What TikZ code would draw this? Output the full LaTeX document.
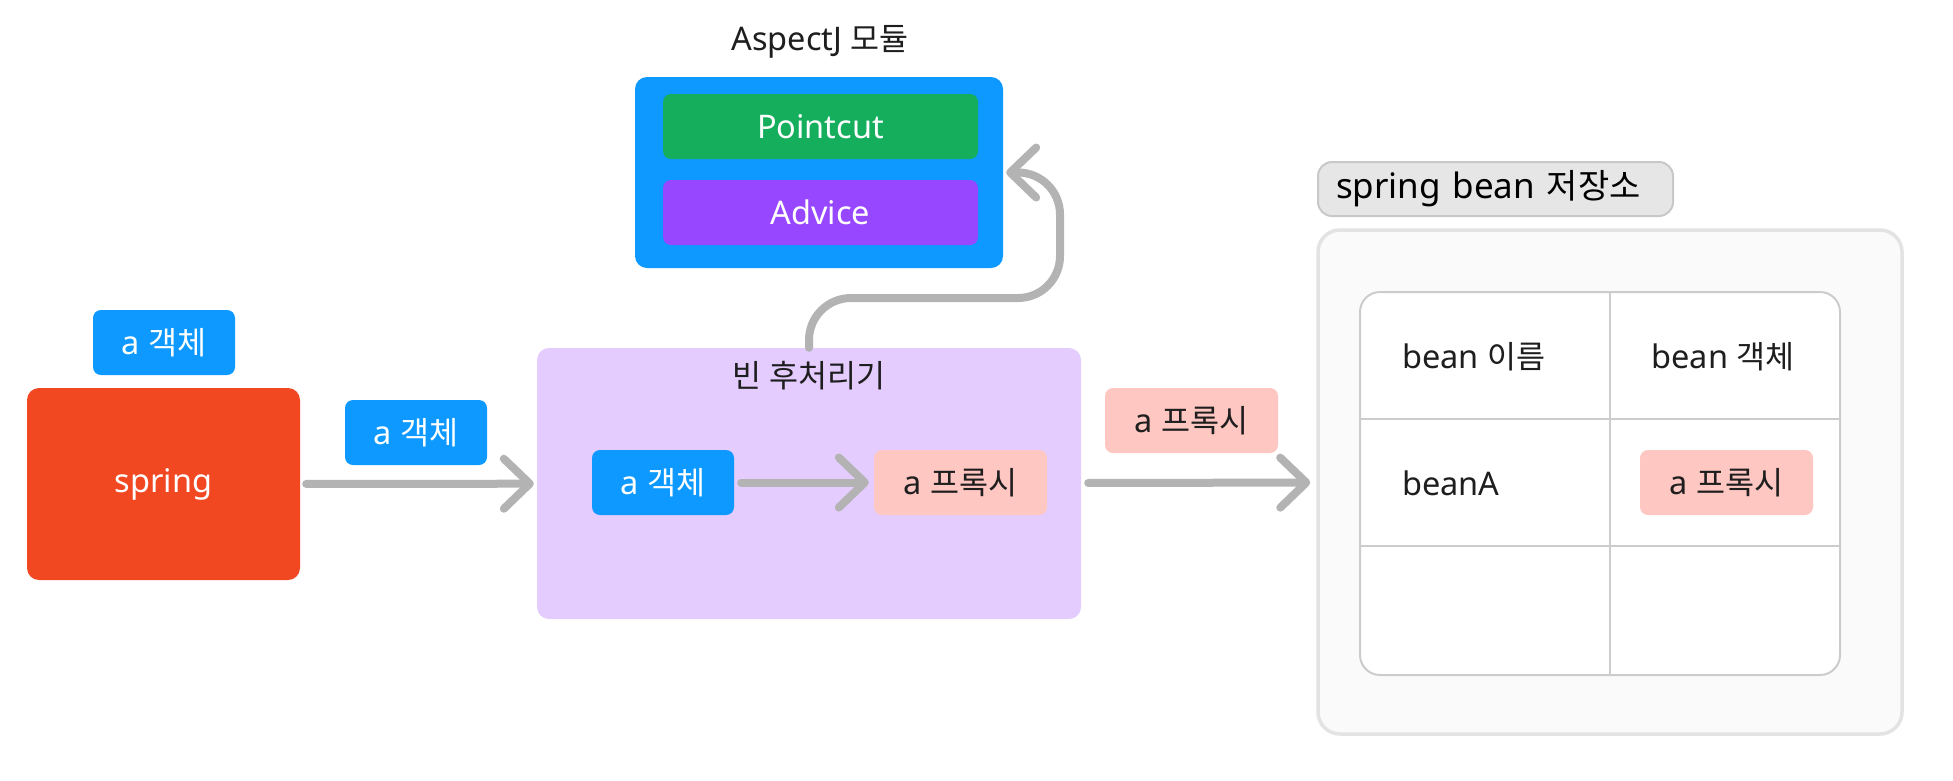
\documentclass[tikz,border=0pt]{standalone}
\usepackage{fontspec}
\setmainfont{Noto Sans}
\newfontfamily\krf[Scale=0.97]{Noto Sans CJK KR}
\newcommand{\kr}[1]{{\krf #1}}
\usetikzlibrary{arrows.meta}
\definecolor{figblue}{HTML}{0D99FF}
\definecolor{figgreen}{HTML}{14AE5C}
\definecolor{figpurple}{HTML}{9747FF}
\definecolor{figred}{HTML}{F24822}
\definecolor{lilac}{HTML}{E4CCFF}
\definecolor{pink}{HTML}{FFC7C2}
\definecolor{arrowgray}{HTML}{B3B3B3}
\definecolor{darktext}{HTML}{1E1E1E}
\definecolor{labelgray}{HTML}{E6E6E6}
\definecolor{labelborder}{HTML}{C8C8C8}
\definecolor{storefill}{HTML}{FAFAFA}
\definecolor{storeborder}{HTML}{E3E3E3}
\definecolor{tblborder}{HTML}{CCCCCC}
\tikzset{
  txt/.style={font=\fontsize{32.5}{38}\selectfont},
  boxbase/.style={txt, inner sep=0pt, rounded corners=8pt},
  bluechip/.style={boxbase, fill=figblue, text=white, minimum width=142pt, minimum height=65pt},
  pinkchip/.style={boxbase, fill=pink, text=darktext, minimum width=173pt, minimum height=65pt},
  arr/.style={draw=arrowgray, line width=8pt, line cap=round,
    -{Straight Barb[length=26pt,width=50pt,round]}},
  tblline/.style={draw=tblborder, line width=2pt},
}
\begin{document}
\begin{tikzpicture}[x=1pt,y=-1pt]
\path[use as bounding box, fill=white] (0,0) rectangle (1953,780);

% AspectJ module
\node[txt, text=darktext] (ajt) at (820,42) {AspectJ \kr{모듈}};
\node[boxbase, rounded corners=12pt, fill=figblue, minimum width=368pt, minimum height=191pt] (aj) at (819,172.5) {};
\node[boxbase, fill=figgreen, text=white, minimum width=315pt, minimum height=65pt] (pc) at (820.5,126.5) {Pointcut};
\node[boxbase, fill=figpurple, text=white, minimum width=315pt, minimum height=65pt] (adv) at (820.5,212.5) {Advice};

% spring
\node[bluechip] (atop) at (164,342.5) {a \kr{객체}};
\node[boxbase, rounded corners=12pt, fill=figred, text=white, minimum width=273pt, minimum height=192pt] (spring) at (163.5,484) {spring};
\node[bluechip] (amid) at (416,432.5) {a \kr{객체}};

% bean post processor
\node[boxbase, rounded corners=12pt, fill=lilac, minimum width=544pt, minimum height=271pt] (pp) at (809,483.5) {};
\node[txt, text=darktext] (ppt) at (809,376) {\kr{빈 후처리기}};
\node[bluechip] (ain) at (663,482.5) {a \kr{객체}};
\node[pinkchip] (pin) at (960.5,482.5) {a \kr{프록시}};

\node[pinkchip] (plabel) at (1191.5,420.5) {a \kr{프록시}};

% storage
\node[font=\fontsize{35}{40}\selectfont, text=black, fill=labelgray, draw=labelborder, line width=2pt,
  rounded corners=14pt, inner xsep=18pt, inner ysep=0pt, text width=319pt, align=left,
  minimum height=54pt] (slabel) at (1495.5,189) {spring bean \kr{저장소}};
\node[fill=storefill, draw=storeborder, line width=3.5pt, rounded corners=22pt,
  minimum width=584pt, minimum height=504pt, inner sep=0pt] (store) at (1610,482) {};
\node[fill=white, draw=tblborder, line width=2pt, rounded corners=20pt,
  minimum width=480pt, minimum height=383pt, inner sep=0pt] (tbl) at (1600,483.5) {};
\coordinate (colx) at (1610,0);
\coordinate (row1) at (0,419);
\coordinate (row2) at (0,546);
\draw[tblline] (tbl.north -| colx) -- (tbl.south -| colx);
\draw[tblline] (tbl.west |- row1) -- (tbl.east |- row1);
\draw[tblline] (tbl.west |- row2) -- (tbl.east |- row2);
\node[txt, text=darktext, anchor=west, inner sep=0pt] (h1) at (1402,357) {bean \kr{이름}};
\node[txt, text=darktext, inner sep=0pt] (h2) at (1723,357) {bean \kr{객체}};
\node[txt, text=darktext, anchor=west, inner sep=0pt] (r1) at (1402,483) {beanA};
\node[pinkchip] (pout) at (1726.5,482.5) {a \kr{프록시}};

% connectors
\draw[arr, shorten <=6pt, shorten >=3pt] (spring) -- (pp);
\draw[arr, shorten <=7pt, shorten >=5pt] (ain) -- (pin);
\draw[arr, shorten <=7pt, shorten >=6pt] (pp) -- (store);
\coordinate (bend) at (1060,298);
\draw[arr, rounded corners=42pt, shorten >=3pt] (pp.north) |- (bend) |- (aj.east);
\end{tikzpicture}
\end{document}
